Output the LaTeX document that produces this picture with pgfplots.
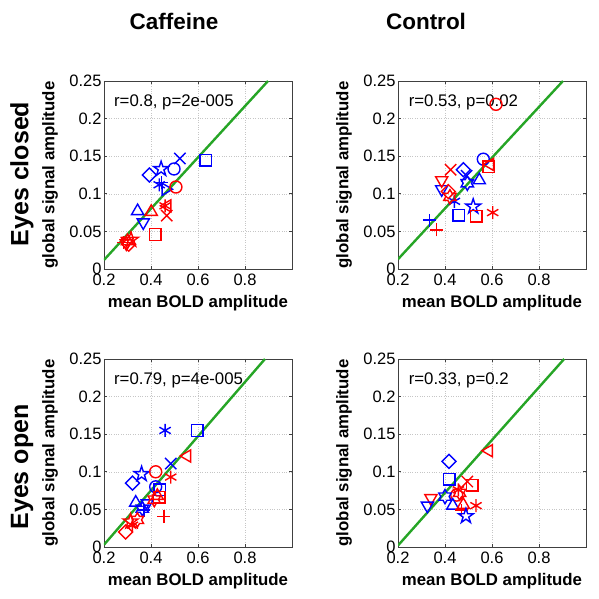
\documentclass[border=0pt]{standalone}
\usepackage{fontspec}
\setmainfont{Liberation Sans}
\usepackage{pgfplots}
\pgfplotsset{compat=1.18}
\usetikzlibrary{plotmarks}
\definecolor{grn}{RGB}{38,165,38}
\definecolor{mblue}{RGB}{0,0,255}
\definecolor{mred}{RGB}{255,0,0}

\pgfdeclareplotmark{tdown}{%
\pgfpathmoveto{\pgfpointpolar{-90}{\pgfplotmarksize}}%
\pgfpathlineto{\pgfpointpolar{30}{\pgfplotmarksize}}%
\pgfpathlineto{\pgfpointpolar{150}{\pgfplotmarksize}}%
\pgfpathclose\pgfusepathqstroke}
\pgfdeclareplotmark{tup}{%
\pgfpathmoveto{\pgfpointpolar{90}{\pgfplotmarksize}}%
\pgfpathlineto{\pgfpointpolar{210}{\pgfplotmarksize}}%
\pgfpathlineto{\pgfpointpolar{330}{\pgfplotmarksize}}%
\pgfpathclose\pgfusepathqstroke}
\pgfdeclareplotmark{tleft}{%
\pgfpathmoveto{\pgfpointpolar{180}{\pgfplotmarksize}}%
\pgfpathlineto{\pgfpointpolar{300}{\pgfplotmarksize}}%
\pgfpathlineto{\pgfpointpolar{60}{\pgfplotmarksize}}%
\pgfpathclose\pgfusepathqstroke}
\pgfdeclareplotmark{tright}{%
\pgfpathmoveto{\pgfpointpolar{0}{\pgfplotmarksize}}%
\pgfpathlineto{\pgfpointpolar{120}{\pgfplotmarksize}}%
\pgfpathlineto{\pgfpointpolar{240}{\pgfplotmarksize}}%
\pgfpathclose\pgfusepathqstroke}
\pgfdeclareplotmark{dmd}{%
\pgfpathmoveto{\pgfpointpolar{90}{\pgfplotmarksize}}%
\pgfpathlineto{\pgfpointpolar{180}{\pgfplotmarksize}}%
\pgfpathlineto{\pgfpointpolar{270}{\pgfplotmarksize}}%
\pgfpathlineto{\pgfpointpolar{0}{\pgfplotmarksize}}%
\pgfpathclose\pgfusepathqstroke}
\pgfdeclareplotmark{sq}{%
\pgfpathmoveto{\pgfpoint{-\pgfplotmarksize}{-\pgfplotmarksize}}%
\pgfpathlineto{\pgfpoint{\pgfplotmarksize}{-\pgfplotmarksize}}%
\pgfpathlineto{\pgfpoint{\pgfplotmarksize}{\pgfplotmarksize}}%
\pgfpathlineto{\pgfpoint{-\pgfplotmarksize}{\pgfplotmarksize}}%
\pgfpathclose\pgfusepathqstroke}
\pgfdeclareplotmark{pls}{%
\pgfpathmoveto{\pgfpoint{-\pgfplotmarksize}{0pt}}\pgfpathlineto{\pgfpoint{\pgfplotmarksize}{0pt}}%
\pgfpathmoveto{\pgfpoint{0pt}{-\pgfplotmarksize}}\pgfpathlineto{\pgfpoint{0pt}{\pgfplotmarksize}}%
\pgfusepathqstroke}
\pgfdeclareplotmark{pentagram}{%
\pgfpathmoveto{\pgfpointpolar{90}{1.2\pgfplotmarksize}}%
\pgfpathlineto{\pgfpointpolar{126}{0.46\pgfplotmarksize}}%
\pgfpathlineto{\pgfpointpolar{162}{1.2\pgfplotmarksize}}%
\pgfpathlineto{\pgfpointpolar{198}{0.46\pgfplotmarksize}}%
\pgfpathlineto{\pgfpointpolar{234}{1.2\pgfplotmarksize}}%
\pgfpathlineto{\pgfpointpolar{270}{0.46\pgfplotmarksize}}%
\pgfpathlineto{\pgfpointpolar{306}{1.2\pgfplotmarksize}}%
\pgfpathlineto{\pgfpointpolar{342}{0.46\pgfplotmarksize}}%
\pgfpathlineto{\pgfpointpolar{18}{1.2\pgfplotmarksize}}%
\pgfpathlineto{\pgfpointpolar{54}{0.46\pgfplotmarksize}}%
\pgfpathclose\pgfusepathqstroke}
\pgfdeclareplotmark{hexagram}{%
\pgfpathmoveto{\pgfpointpolar{90}{1.1\pgfplotmarksize}}%
\pgfpathlineto{\pgfpointpolar{120}{0.64\pgfplotmarksize}}%
\pgfpathlineto{\pgfpointpolar{150}{1.1\pgfplotmarksize}}%
\pgfpathlineto{\pgfpointpolar{180}{0.64\pgfplotmarksize}}%
\pgfpathlineto{\pgfpointpolar{210}{1.1\pgfplotmarksize}}%
\pgfpathlineto{\pgfpointpolar{240}{0.64\pgfplotmarksize}}%
\pgfpathlineto{\pgfpointpolar{270}{1.1\pgfplotmarksize}}%
\pgfpathlineto{\pgfpointpolar{300}{0.64\pgfplotmarksize}}%
\pgfpathlineto{\pgfpointpolar{330}{1.1\pgfplotmarksize}}%
\pgfpathlineto{\pgfpointpolar{0}{0.64\pgfplotmarksize}}%
\pgfpathlineto{\pgfpointpolar{30}{1.1\pgfplotmarksize}}%
\pgfpathlineto{\pgfpointpolar{60}{0.64\pgfplotmarksize}}%
\pgfpathclose\pgfusepathqstroke}

\tikzset{ann/.style={anchor=west, font=\fontsize{16.8}{19}\selectfont}}
\pgfplotsset{
panel/.style={
 width=188pt, height=188pt, scale only axis,
 xmin=0.2, xmax=1, ymin=0, ymax=0.25,
 xtick={0.2,0.4,0.6,0.8}, xticklabels={0.2,0.4,0.6,0.8},
 ytick={0,0.05,0.1,0.15,0.2,0.25}, yticklabels={0,0.05,0.1,0.15,0.2,0.25},
 grid=major, major grid style={dotted, gray!45, line width=0.5pt},
 tick align=inside, major tick length=3pt,
 axis line style={black!75, line width=0.7pt},
 tick style={black!75, line width=0.6pt},
 tick label style={font=\fontsize{16.5}{18}\selectfont},
 xticklabel style={yshift=-1pt},
 yticklabel style={xshift=1pt},
 label style={font=\bfseries\fontsize{16.8}{19}\selectfont},
 xlabel={mean BOLD amplitude}, ylabel={global signal amplitude},
 x label style={at={(axis description cs:0.5,-0.18)}, anchor=center},
 y label style={at={(axis description cs:-0.287,0.5)}, anchor=center},
 /pgf/number format/assume math mode=true,
},
mkB/.style={only marks, draw=mblue, line width=1.4pt, mark options={solid, draw=mblue, fill=none, line width=1.4pt}},
mkR/.style={only marks, draw=mred, line width=1.4pt, mark options={solid, draw=mred, fill=none, line width=1.4pt}},
Bo/.style={mkB, mark=o, mark size=6pt}, Ro/.style={mkR, mark=o, mark size=6pt},
Bx/.style={mkB, mark=x, mark size=8pt}, Rx/.style={mkR, mark=x, mark size=8pt},
Bp/.style={mkB, mark=pls, mark size=6.5pt}, Rp/.style={mkR, mark=pls, mark size=6.5pt},
Ba/.style={mkB, mark=asterisk, mark size=6.5pt}, Ra/.style={mkR, mark=asterisk, mark size=6.5pt},
Bs/.style={mkB, mark=sq, mark size=5.8pt}, Rs/.style={mkR, mark=sq, mark size=5.8pt},
Bd/.style={mkB, mark=dmd, mark size=7pt}, Rd/.style={mkR, mark=dmd, mark size=7pt},
Bt/.style={mkB, mark=tup, mark size=7pt}, Rt/.style={mkR, mark=tup, mark size=7pt},
Bv/.style={mkB, mark=tdown, mark size=7pt}, Rv/.style={mkR, mark=tdown, mark size=7pt},
Bl/.style={mkB, mark=tleft, mark size=7pt}, Rl/.style={mkR, mark=tleft, mark size=7pt},
Br/.style={mkB, mark=tright, mark size=7pt}, Rr/.style={mkR, mark=tright, mark size=7pt},
Bq/.style={mkB, mark=pentagram, mark size=6.5pt}, Rq/.style={mkR, mark=pentagram, mark size=6.5pt},
Bh/.style={mkB, mark=hexagram, mark size=6.5pt}, Rh/.style={mkR, mark=hexagram, mark size=6.5pt},
fitline/.style={no marks, line width=2.4pt, draw=grn}
}

\begin{document}
\begin{tikzpicture}
\path[use as bounding box] (0,0) rectangle (598pt,599pt);

% ---------- Caffeine, eyes closed ----------
\begin{axis}[panel, at={(104pt,330pt)}, anchor=south west]
\addplot[Bs] coordinates {(0.633,0.1445)};
\addplot[Bx] coordinates {(0.523,0.147)};
\addplot[Bo] coordinates {(0.498,0.133)};
\addplot[Bq] coordinates {(0.443,0.133)};
\addplot[Bd] coordinates {(0.393,0.125)};
\addplot[Ba] coordinates {(0.435,0.112)};
\addplot[Bp] coordinates {(0.445,0.115)};
\addplot[Br] coordinates {(0.462,0.106)};
\addplot[Bt] coordinates {(0.343,0.077)};
\addplot[Bv] coordinates {(0.367,0.062)};
\addplot[Ro] coordinates {(0.506,0.109)};
\addplot[Ra] coordinates {(0.460,0.084)};
\addplot[Rl] coordinates {(0.470,0.084)};
\addplot[Rx] coordinates {(0.467,0.071)};
\addplot[Rt] coordinates {(0.401,0.076)};
\addplot[Rs] coordinates {(0.418,0.046)};
\addplot[Rh] coordinates {(0.300,0.037)};
\addplot[Rq] coordinates {(0.315,0.039)};
\addplot[Rp] coordinates {(0.283,0.035)};
\addplot[Rd] coordinates {(0.305,0.033)};
\addplot[Rv] coordinates {(0.295,0.034)};
\addplot[fitline] coordinates {(0.2,0.012) (0.898,0.25)};
\node[ann] at (axis cs:0.228,0.222) {r=0.8, p=2e-005};
\end{axis}

% ---------- Control, eyes closed ----------
\begin{axis}[panel, at={(398pt,330pt)}, anchor=south west]
\addplot[Bs] coordinates {(0.4595,0.0715)};
\addplot[Bo] coordinates {(0.563,0.146)};
\addplot[Bd] coordinates {(0.478,0.132)};
\addplot[Bx] coordinates {(0.492,0.124)};
\addplot[Bt] coordinates {(0.546,0.118)};
\addplot[Bh] coordinates {(0.495,0.114)};
\addplot[Bv] coordinates {(0.386,0.106)};
\addplot[Ba] coordinates {(0.440,0.090)};
\addplot[Bq] coordinates {(0.520,0.083)};
\addplot[Bp] coordinates {(0.333,0.065)};
\addplot[Rs] coordinates {(0.587,0.136) (0.532,0.070)};
\addplot[Ro] coordinates {(0.617,0.219)};
\addplot[Rl] coordinates {(0.592,0.139)};
\addplot[Rx] coordinates {(0.424,0.132)};
\addplot[Rv] coordinates {(0.386,0.118)};
\addplot[Rd] coordinates {(0.414,0.103)};
\addplot[Rh] coordinates {(0.421,0.096)};
\addplot[Ra] coordinates {(0.603,0.075)};
\addplot[Rp] coordinates {(0.365,0.052)};
\addplot[fitline] coordinates {(0.2,0.013) (0.902,0.25)};
\node[ann] at (axis cs:0.231,0.222) {r=0.53, p=0.02};
\end{axis}

% ---------- Caffeine, eyes open ----------
\begin{axis}[panel, at={(104pt,52pt)}, anchor=south west]
\addplot[Rp] coordinates {(0.4545,0.0405)};
\addplot[Ba] coordinates {(0.460,0.155)};
\addplot[Bs] coordinates {(0.597,0.155) (0.437,0.076)};
\addplot[Bx] coordinates {(0.484,0.111)};
\addplot[Bq] coordinates {(0.360,0.097)};
\addplot[Bd] coordinates {(0.321,0.085)};
\addplot[Bo] coordinates {(0.420,0.080)};
\addplot[Bt] coordinates {(0.335,0.059)};
\addplot[Bv] coordinates {(0.384,0.058)};
\addplot[Bh] coordinates {(0.363,0.051)};
\addplot[Bp] coordinates {(0.370,0.049)};
\addplot[Rl] coordinates {(0.554,0.121)};
\addplot[Ro] coordinates {(0.420,0.100)};
\addplot[Ra] coordinates {(0.484,0.093) (0.321,0.029)};
\addplot[Rt] coordinates {(0.427,0.068)};
\addplot[Rs] coordinates {(0.435,0.066)};
\addplot[Rh] coordinates {(0.414,0.063) (0.342,0.036)};
\addplot[Rq] coordinates {(0.313,0.034)};
\addplot[Rd] coordinates {(0.292,0.020)};
\addplot[fitline] coordinates {(0.2,0.003) (0.885,0.25)};
\node[ann] at (axis cs:0.228,0.222) {r=0.79, p=4e-005};
\end{axis}

% ---------- Control, eyes open ----------
\begin{axis}[panel, at={(398pt,52pt)}, anchor=south west]
\addplot[Rl] coordinates {(0.587,0.128)};
\addplot[Bd] coordinates {(0.417,0.114)};
\addplot[Bs] coordinates {(0.418,0.090)};
\addplot[Rx] coordinates {(0.495,0.087)};
\addplot[Rs] coordinates {(0.516,0.082)};
\addplot[Ra] coordinates {(0.457,0.076) (0.532,0.055)};
\addplot[Ro] coordinates {(0.450,0.069)};
\addplot[Rh] coordinates {(0.462,0.072)};
\addplot[Rv] coordinates {(0.340,0.065)};
\addplot[Bv] coordinates {(0.325,0.055)};
\addplot[Bh] coordinates {(0.400,0.067)};
\addplot[Bt] coordinates {(0.433,0.055)};
\addplot[Rt] coordinates {(0.478,0.056)};
\addplot[Rp] coordinates {(0.471,0.049)};
\addplot[Bq] coordinates {(0.489,0.041)};
\addplot[fitline] coordinates {(0.2,0.002) (0.907,0.25)};
\node[ann] at (axis cs:0.231,0.222) {r=0.33, p=0.2};
\end{axis}

\node[font=\bfseries\fontsize{22.5}{26}\selectfont] at (174pt,578pt) {Caffeine};
\node[font=\bfseries\fontsize{22.5}{26}\selectfont] at (426pt,578pt) {Control};
\node[rotate=90, font=\bfseries\fontsize{25}{28}\selectfont] at (22pt,425pt) {Eyes closed};
\node[rotate=90, font=\bfseries\fontsize{25}{28}\selectfont] at (22pt,132pt) {Eyes open};
\end{tikzpicture}
\end{document}
